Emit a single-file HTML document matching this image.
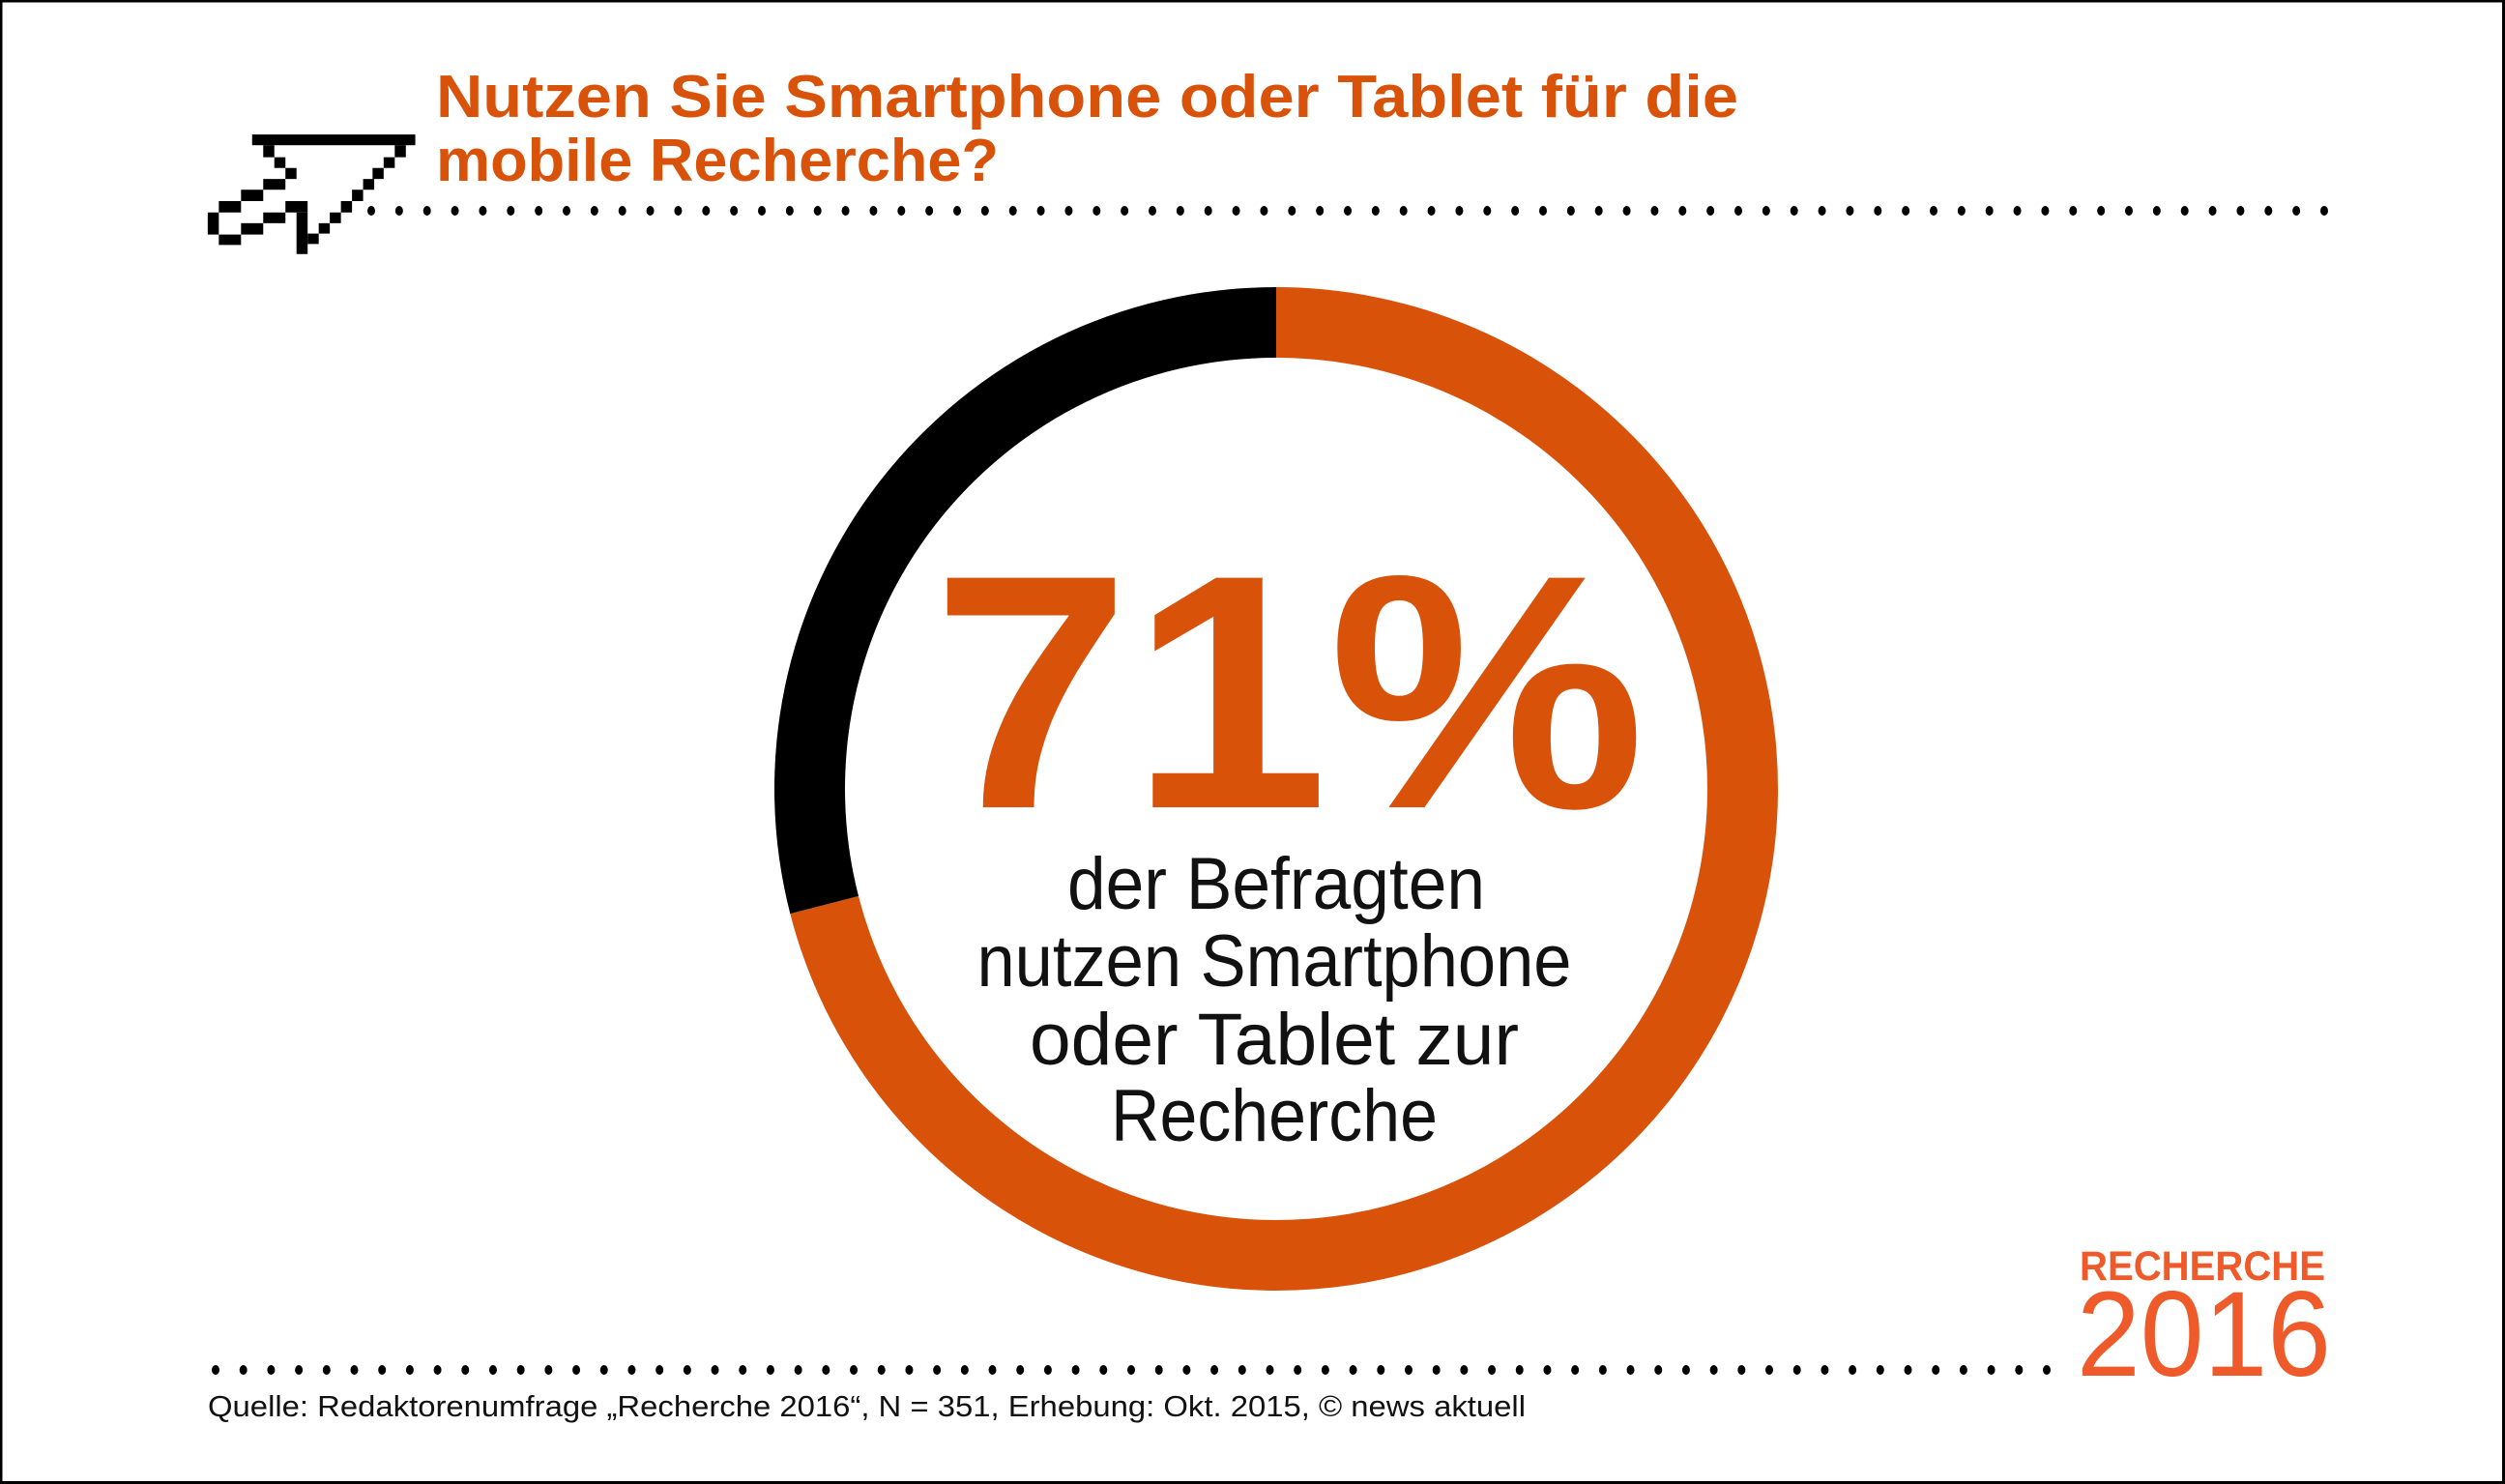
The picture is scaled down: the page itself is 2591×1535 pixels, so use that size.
<!DOCTYPE html>
<html><head><meta charset="utf-8"><style>
html,body{margin:0;padding:0;background:#fff;overflow:hidden;width:2591px;height:1535px;}
svg{display:block;}
</style></head><body>
<svg id="chart" width="2591" height="1535" viewBox="0 0 2591 1535" xmlns="http://www.w3.org/2000/svg">
<path d="M1,0V1535M0,1H2591M2589.5,0V1535M0,1533.5H2591" stroke="#000" stroke-width="3"/>

<g transform="translate(150,40) scale(0.574,0.336)" fill="#000">
<rect x="193" y="295" width="294" height="33"/>
<rect x="213" y="328" width="20" height="37"/>
<rect x="233" y="365" width="20" height="33"/>
<rect x="253" y="398" width="20" height="34"/>
<rect x="213" y="432" width="40" height="33"/>
<rect x="173" y="465" width="40" height="35"/>
<rect x="133" y="500" width="40" height="35"/>
<rect x="113" y="535" width="20" height="68"/>
<rect x="133" y="603" width="40" height="32"/>
<rect x="173" y="568" width="40" height="35"/>
<rect x="213" y="535" width="40" height="33"/>
<rect x="253" y="500" width="40" height="35"/>
<rect x="273" y="535" width="20" height="128"/>
<rect x="293" y="600" width="20" height="32"/>
<rect x="313" y="568" width="20" height="32"/>
<rect x="333" y="535" width="20" height="33"/>
<rect x="353" y="500" width="20" height="35"/>
<rect x="373" y="465" width="20" height="35"/>
<rect x="393" y="432" width="20" height="33"/>
<rect x="410" y="398" width="20" height="34"/>
<rect x="430" y="365" width="20" height="33"/>
<rect x="450" y="328" width="20" height="37"/>
</g>

<text x="451" y="121" font-family="Liberation Sans, sans-serif" font-weight="bold" font-size="62" fill="#D9520A" textLength="1347" lengthAdjust="spacingAndGlyphs">Nutzen Sie Smartphone oder Tablet für die</text>
<text x="451" y="187" font-family="Liberation Sans, sans-serif" font-weight="bold" font-size="62" fill="#D9520A" textLength="582" lengthAdjust="spacingAndGlyphs">mobile Recherche?</text>

<g id="topDots"></g>
<g id="bottomDots"></g>

<g id="donut"></g>

<text x="964" y="835" font-family="Liberation Sans, sans-serif" font-weight="bold" font-size="345" fill="#D9520A" textLength="738" lengthAdjust="spacingAndGlyphs">71%</text>

<g font-family="Liberation Sans, sans-serif" font-size="76" fill="#111" text-anchor="middle">
<text x="1320" y="940" textLength="432" lengthAdjust="spacingAndGlyphs">der Befragten</text>
<text x="1318" y="1020" textLength="615" lengthAdjust="spacingAndGlyphs">nutzen Smartphone</text>
<text x="1318" y="1101" textLength="506" lengthAdjust="spacingAndGlyphs">oder Tablet zur</text>
<text x="1318" y="1180" textLength="338" lengthAdjust="spacingAndGlyphs">Recherche</text>
</g>

<text x="2151" y="1324" font-family="Liberation Sans, sans-serif" font-weight="bold" font-size="43" fill="#EE5A2A" textLength="254" lengthAdjust="spacingAndGlyphs">RECHERCHE</text>
<text x="2148" y="1423" font-family="Liberation Sans, sans-serif" font-size="125" fill="#EE5A2A" textLength="263" lengthAdjust="spacingAndGlyphs">2016</text>

<text x="215" y="1465" font-family="Liberation Sans, sans-serif" font-size="31" fill="#111" textLength="1363" lengthAdjust="spacingAndGlyphs">Quelle: Redaktorenumfrage „Recherche 2016“, N = 351, Erhebung: Okt. 2015, © news aktuell</text>
</svg>
<script>
const categories = ["nutzen Smartphone/Tablet", "nutzen nicht"];
const shares = [71, 29];
const sliceColors = ["#D9520A", "#000000"];

const NS = "http://www.w3.org/2000/svg";
const cx = 1320, cy = 816, R = 519, r = 446;
function angleOf(v){ return v / 100 * 2 * Math.PI - Math.PI / 2; }
function pt(rad, a){ return [cx + rad * Math.cos(a), cy + rad * Math.sin(a)]; }
const donut = document.getElementById('donut');
let cum = 0;
shares.forEach((v, i) => {
  const a0 = angleOf(cum), a1 = angleOf(cum + v);
  cum += v;
  const large = v > 50 ? 1 : 0;
  const p0 = pt(R, a0), p1 = pt(R, a1), q1 = pt(r, a1), q0 = pt(r, a0);
  const d = `M${p0[0]},${p0[1]} A${R},${R} 0 ${large} 1 ${p1[0]},${p1[1]} L${q1[0]},${q1[1]} A${r},${r} 0 ${large} 0 ${q0[0]},${q0[1]} Z`;
  const path = document.createElementNS(NS, 'path');
  path.setAttribute('d', d);
  path.setAttribute('fill', sliceColors[i]);
  
  
  donut.appendChild(path);
});

function dots(g, x0, x1, y, step){
  const n = Math.round((x1 - x0) / step);
  for (let k = 0; k <= n; k++){
    const e = document.createElementNS(NS, 'ellipse');
    e.setAttribute('cx', x0 + k * (x1 - x0) / n);
    e.setAttribute('cy', y);
    e.setAttribute('rx', 4);
    e.setAttribute('ry', 5);
    e.setAttribute('fill', '#000');
    
    
    g.appendChild(e);
  }
}
dots(document.getElementById('topDots'), 384, 2404, 218, 29);
dots(document.getElementById('bottomDots'), 223, 2117, 1417, 28.8);
</script>
</body></html>
